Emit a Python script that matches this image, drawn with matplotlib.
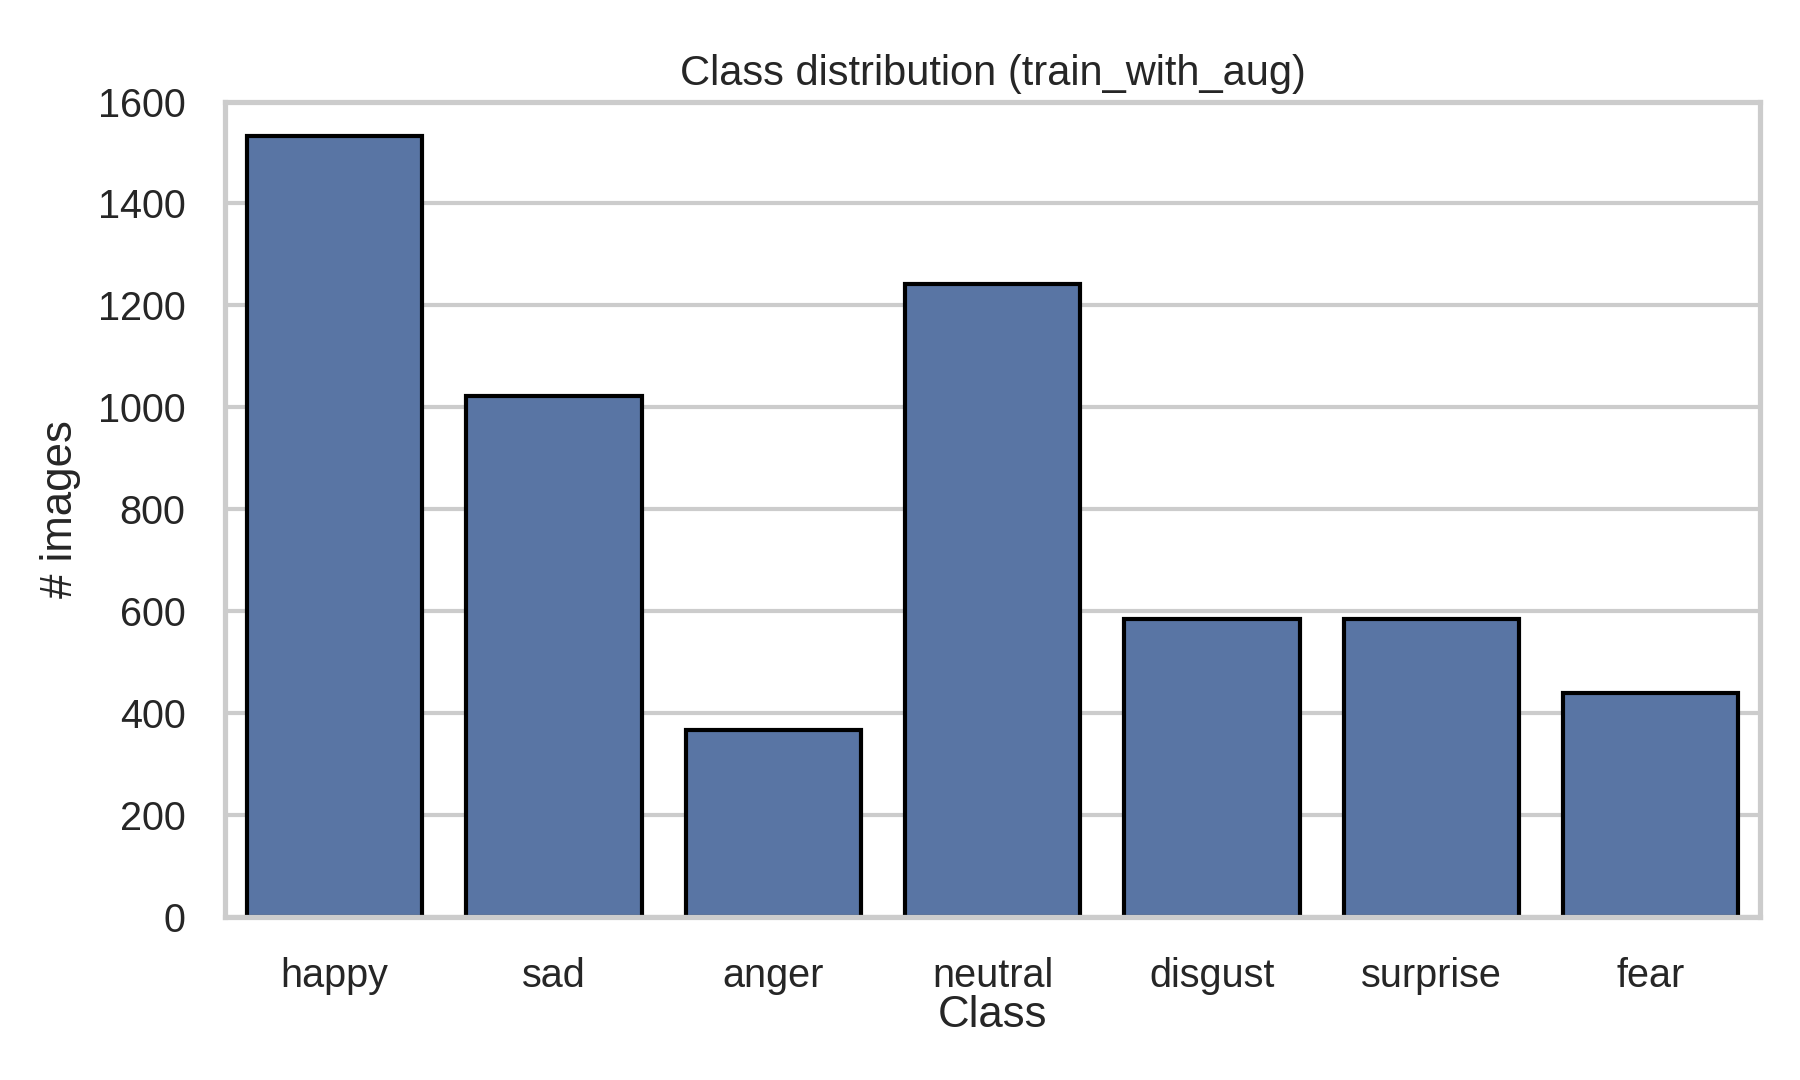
import numpy as np
import matplotlib
matplotlib.use("Agg")
import matplotlib.pyplot as plt
import seaborn as sns

classes = ["happy", "sad", "anger", "neutral", "disgust", "surprise", "fear"]
counts = [1532, 1022, 367, 1241, 585, 585, 440]

sns.set_theme(style="whitegrid")
plt.rcParams['font.family'] = ['Arial', 'Liberation Sans', 'DejaVu Sans']

fig, ax = plt.subplots(figsize=(6, 3.6), dpi=300)
sns.barplot(x=classes, y=counts, color="#4c72b0", edgecolor="black",
            linewidth=1, ax=ax)
ax.set_ylim(0, 1600)
ax.set_title("Class distribution (train_with_aug)", fontsize=10, pad=4)
ax.set_xlabel("Class", fontsize=10.5, labelpad=0)
ax.set_ylabel("# images", fontsize=10.5)
ax.tick_params(labelsize=9.5)
fig.subplots_adjust(left=0.125, right=0.978, top=0.906, bottom=0.151)
fig.savefig("out.png", dpi=300)
